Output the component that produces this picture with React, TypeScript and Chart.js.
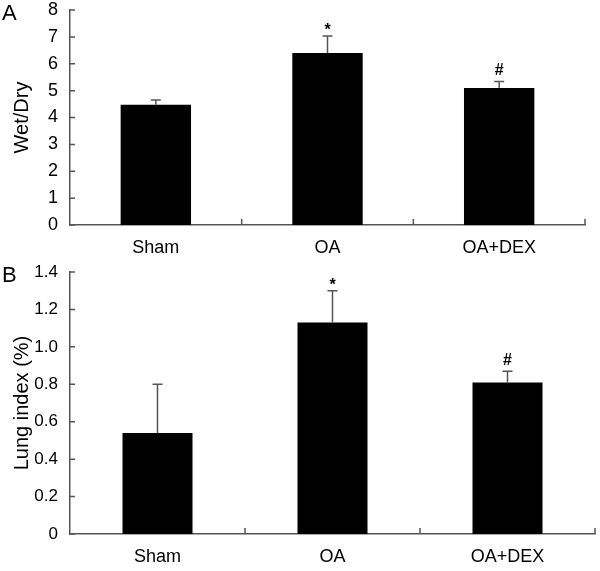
import React, { useEffect, useRef } from "react";
import { Chart, registerables } from "chart.js";

Chart.register(...registerables);

const categories = ["Sham", "OA", "OA+DEX"];

const wetDryValues = [4.47, 6.4, 5.1];
const wetDryErrors = [0.18, 0.63, 0.24];
const wetDryMarks = ["", "*", "#"];
const wetDryTicks = ["0", "1", "2", "3", "4", "5", "6", "7", "8"];

const lungValues = [0.54, 1.13, 0.81];
const lungErrors = [0.26, 0.17, 0.06];
const lungMarks = ["", "*", "#"];
const lungTicks = ["0", "0.2", "0.4", "0.6", "0.8", "1.0", "1.2", "1.4"];

const FONT = "'Liberation Sans', Arial, Helvetica, sans-serif";
const AXIS = "#555";

type PanelCfg = {
  letter: string;
  title: string;
  values: number[];
  errors: number[];
  marks: string[];
  tickLabels: string[];
  max: number;
  step: number;
  rightPad: number;
  topPad: number;
  barPct: number;
  tickSize: number;
  xHeight: number;
};

function makeChart(canvas: HTMLCanvasElement, cfg: PanelCfg) {
  const decor = {
    id: "decor",
    afterDatasetsDraw(chart: any) {
      const ctx = chart.ctx;
      const yS = chart.scales.y;
      const meta = chart.getDatasetMeta(0);
      ctx.save();
      ctx.strokeStyle = AXIS;
      ctx.lineWidth = 1.5;
      meta.data.forEach((bar: any, i: number) => {
        const top = yS.getPixelForValue(cfg.values[i] + cfg.errors[i]);
        ctx.beginPath();
        ctx.moveTo(bar.x, bar.y);
        ctx.lineTo(bar.x, top);
        ctx.moveTo(bar.x - 5, top);
        ctx.lineTo(bar.x + 5, top);
        ctx.stroke();
        const m = cfg.marks[i];
        if (m) {
          ctx.fillStyle = "#000";
          ctx.font = "bold 16px " + FONT;
          ctx.textAlign = "center";
          ctx.textBaseline = "alphabetic";
          const gap = m === "*" ? 1 : 6;
          ctx.fillText(m, bar.x, top - gap);
        }
      });
      ctx.restore();
    },
    afterDraw(chart: any) {
      const ctx = chart.ctx;
      const yS = chart.scales.y;
      const xS = chart.scales.x;
      ctx.save();
      ctx.strokeStyle = AXIS;
      ctx.lineWidth = 1.5;
      ctx.beginPath();
      yS.ticks.forEach((_t: any, i: number) => {
        const y = yS.getPixelForTick(i);
        ctx.moveTo(yS.right, y);
        ctx.lineTo(yS.right + 5, y);
      });
      for (let i = 0; i < categories.length; i++) {
        const x = xS.getPixelForValue(i + 0.5);
        ctx.moveTo(x, xS.top);
        ctx.lineTo(x, xS.top - 6);
      }
      ctx.stroke();
      ctx.fillStyle = "#000";
      ctx.font = "22px " + FONT;
      ctx.textAlign = "left";
      ctx.textBaseline = "top";
      ctx.fillText(cfg.letter, 2, 3);
      ctx.restore();
    },
  };

  return new Chart(canvas, {
    type: "bar",
    data: {
      labels: categories,
      datasets: [
        {
          data: cfg.values,
          backgroundColor: "#000",
          borderColor: "#000",
          borderWidth: 0,
          categoryPercentage: 1,
          barPercentage: cfg.barPct,
        },
      ],
    },
    options: {
      animation: false,
      responsive: false,
      maintainAspectRatio: false,
      events: [],
      layout: { padding: { left: 0, top: 0, right: cfg.rightPad, bottom: 0 } },
      plugins: { legend: { display: false }, tooltip: { enabled: false } },
      scales: {
        x: {
          offset: true,
          grid: { display: false, drawTicks: false, offset: true },
          border: { display: true, color: AXIS, width: 1.5 },
          ticks: { color: "#000", font: { family: FONT, size: 18 }, padding: 12 },
          afterFit: (s: any) => {
            s.height = cfg.xHeight;
          },
        },
        y: {
          min: 0,
          max: cfg.max,
          grid: { display: false, drawTicks: false },
          border: { display: true, color: AXIS, width: 1.5 },
          ticks: {
            stepSize: cfg.step,
            color: "#000",
            font: { family: FONT, size: cfg.tickSize },
            padding: 12,
            callback: (_v: any, i: number) => cfg.tickLabels[i],
          },
          title: {
            display: true,
            text: cfg.title,
            color: "#000",
            font: { family: FONT, size: 20 },
            padding: { top: 10, bottom: 0 },
          },
          afterFit: (s: any) => {
            s.width = 70;
            s.paddingTop = cfg.topPad;
            s.paddingBottom = 0;
          },
        },
      },
    },
    plugins: [decor],
  } as any);
}

function Panel({ cfg, top, height }: { cfg: PanelCfg; top: number; height: number }) {
  const ref = useRef<HTMLCanvasElement | null>(null);
  useEffect(() => {
    if (!ref.current) return;
    const c = makeChart(ref.current, cfg);
    return () => c.destroy();
  }, []);
  return (
    <canvas
      ref={ref}
      width={600}
      height={height}
      style={{ position: "absolute", left: 0, top, width: 600, height }}
    />
  );
}

export default function App() {
  const a: PanelCfg = {
    letter: "A",
    title: "Wet/Dry",
    values: wetDryValues,
    errors: wetDryErrors,
    marks: wetDryMarks,
    tickLabels: wetDryTicks,
    max: 8,
    step: 1,
    rightPad: 15,
    topPad: 10,
    barPct: 0.41,
    tickSize: 18,
    xHeight: 37,
  };
  const b: PanelCfg = {
    letter: "B",
    title: "Lung index (%)",
    values: lungValues,
    errors: lungErrors,
    marks: lungMarks,
    tickLabels: lungTicks,
    max: 1.4,
    step: 0.2,
    rightPad: 5,
    topPad: 10,
    barPct: 0.4,
    tickSize: 17,
    xHeight: 37,
  };
  return (
    <div
      style={{
        position: "fixed",
        left: 0,
        top: 0,
        width: 600,
        height: 571,
        background: "#fff",
        overflow: "hidden",
      }}
    >
      <Panel cfg={a} top={0} height={262} />
      <Panel cfg={b} top={262} height={309} />
    </div>
  );
}
